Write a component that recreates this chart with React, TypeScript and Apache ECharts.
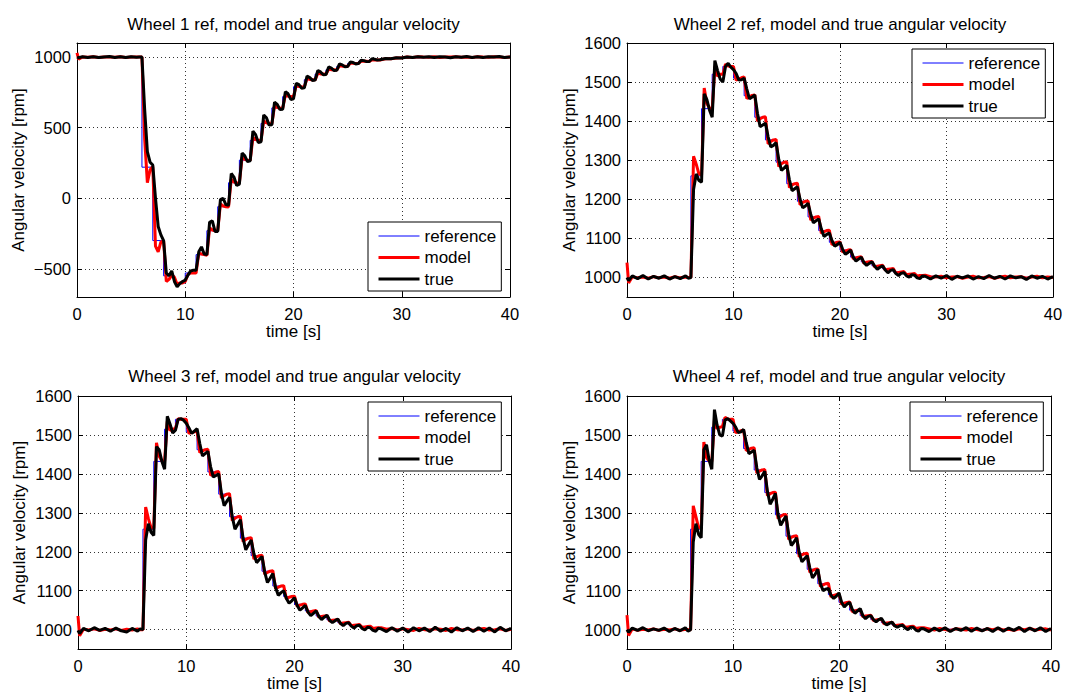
import React, { useEffect, useRef } from 'react';
import * as echarts from 'echarts';

// time samples (s) shared by the model / true traces
const T = [
  0, 0.15, 0.5, 1, 1.5, 2, 2.5, 3, 3.5, 4, 4.5, 5, 5.5, 5.75,
  6, 6.25, 6.5, 6.75, 7, 7.25, 7.5, 7.75, 8, 8.25, 8.5, 8.75, 9, 9.25, 9.5, 9.75,
  10, 10.25, 10.5, 10.75, 11, 11.25, 11.5, 11.75, 12, 12.25, 12.5, 12.75, 13, 13.25, 13.5, 13.75,
  14, 14.25, 14.5, 14.75, 15, 15.25, 15.5, 15.75, 16, 16.25, 16.5, 16.75, 17, 17.25, 17.5, 17.75,
  18, 18.25, 18.5, 18.75, 19, 19.25, 19.5, 19.75, 20, 20.25, 20.5, 20.75, 21, 21.25, 21.5, 21.75,
  22, 22.25, 22.5, 22.75, 23, 23.25, 23.5, 23.75, 24, 24.25, 24.5, 24.75, 25, 25.25, 25.5, 25.75,
  26, 26.25, 26.5, 26.75, 27, 27.25, 27.5, 27.75, 28,
  28.5, 29, 29.5, 30, 30.5, 31, 31.5, 32, 32.5, 33, 33.5, 34, 34.5, 35, 35.5, 36, 36.5, 37, 37.5, 38, 38.5, 39, 39.5, 40,
];

// reference step instants (s)
const REF_T = [0, 6, 7, 8, 9, 10, 11, 12, 13, 14, 15, 16, 17, 18, 19, 20, 21, 22, 23, 24, 25, 26, 27, 28, 29, 30, 40];

// ---- Wheel 1 ----
const W1_REF = [1000, 220, -300, -550, -600, -530, -400, -230, -60, 110, 270, 410, 530, 640, 720, 790, 840, 880, 910, 935, 955, 970, 980, 988, 995, 1000, 1000];
const W1_MODEL = [
  1030, 985, 1001, 999, 1002, 998, 1001, 1000, 999, 1002, 998, 1001, 1000, 1000,
  1000, 420, 110, 200, 225, -340, -380, -310, -300, -590, -575, -545, -560, -610, -600, -600,
  -590, -540, -530, -530, -530, -390, -395, -400, -405, -210, -225, -230, -232, -40, -55, -60,
  -62, 135, 115, 110, 108, 290, 275, 270, 268, 430, 415, 410, 408, 548, 535, 530,
  528, 655, 643, 640, 638, 732, 724, 720, 719, 800, 792, 790, 789, 848, 842, 840,
  839, 886, 881, 880, 879, 915, 911, 910, 909, 939, 936, 935, 934, 958, 956, 955,
  955, 972, 970, 970, 969, 982, 980, 980, 980,
  988, 989, 994, 995, 1000, 998, 1002, 1000, 999, 1002, 998, 1001, 1000, 1003, 999, 1001, 998, 1002, 1000, 999, 1002, 1000, 998, 1001,
];
const W1_TRUE = [
  1000, 996, 1002, 998, 1003, 997, 1001, 1004, 998, 1002, 997, 1003, 999, 1001,
  1000, 630, 330, 255, 235, 0, -200, -260, -300, -530, -550, -515, -590, -628, -605, -590,
  -580, -545, -515, -510, -510, -380, -345, -395, -400, -170, -160, -235, -235, -10, 0, -45,
  -50, 175, 150, 90, 100, 320, 300, 260, 265, 475, 450, 395, 400, 590, 570, 518,
  520, 680, 665, 628, 630, 755, 740, 700, 705, 815, 805, 780, 782, 865, 855, 835,
  838, 905, 895, 875, 877, 930, 922, 905, 907, 952, 945, 932, 933, 966, 962, 952,
  954, 978, 975, 968, 969, 988, 985, 979, 981,
  990, 988, 996, 994, 1001, 998, 1003, 999, 1002, 997, 1003, 1000, 996, 1003, 999, 1004, 998, 1002, 997, 1003, 1000, 1004, 998, 1001,
];

// ---- Wheel 2 ----
const W2_REF = [1000, 1260, 1432, 1520, 1540, 1510, 1465, 1410, 1352, 1295, 1240, 1195, 1155, 1120, 1090, 1070, 1052, 1040, 1030, 1022, 1014, 1009, 1005, 1003, 1001, 1000, 1000];
const W2_MODEL = [
  1038, 986, 1002, 999, 1001, 998, 1002, 999, 1001, 998, 1002, 999, 1001, 1000,
  1000, 1310, 1290, 1265, 1262, 1485, 1445, 1433, 1431, 1540, 1515, 1520, 1520, 1546, 1541, 1540,
  1540, 1505, 1508, 1511, 1513, 1458, 1462, 1466, 1467, 1400, 1406, 1410, 1411, 1342, 1348, 1352,
  1353, 1284, 1291, 1295, 1296, 1230, 1237, 1240, 1241, 1186, 1192, 1195, 1196, 1147, 1152, 1155,
  1156, 1113, 1117, 1120, 1121, 1084, 1088, 1090, 1091, 1065, 1068, 1070, 1071, 1048, 1050, 1052,
  1053, 1036, 1039, 1040, 1041, 1027, 1029, 1030, 1031, 1019, 1021, 1022, 1023, 1011, 1013, 1014,
  1015, 1007, 1008, 1009, 1010, 1003, 1005, 1005, 1006,
  1002, 1001, 1003, 999, 1001, 1002, 998, 1001, 1003, 999, 1000, 1002, 998, 1001, 1003, 999, 1001, 1002, 998, 1001, 1003, 999, 1001, 1000,
];
const W2_TRUE = [
  1000, 992, 1004, 997, 1005, 996, 1003, 998, 1004, 996, 1002, 997, 1004, 998,
  1000, 1225, 1265, 1248, 1244, 1470, 1455, 1428, 1410, 1555, 1530, 1508, 1500, 1540, 1548, 1538,
  1532, 1522, 1505, 1506, 1510, 1482, 1457, 1462, 1467, 1420, 1386, 1390, 1395, 1360, 1334, 1338,
  1345, 1302, 1274, 1280, 1287, 1250, 1222, 1227, 1232, 1200, 1178, 1183, 1190, 1162, 1140, 1145,
  1150, 1124, 1105, 1110, 1114, 1094, 1080, 1084, 1090, 1072, 1059, 1064, 1070, 1052, 1042, 1047,
  1052, 1038, 1031, 1036, 1040, 1029, 1021, 1026, 1030, 1019, 1012, 1018, 1020, 1010, 1005, 1011,
  1012, 1004, 1001, 1007, 1006, 999, 997, 1004, 1003,
  996, 1004, 998, 1005, 995, 1003, 999, 1004, 996, 1002, 997, 1005, 998, 1003, 996, 1004, 999, 1002, 995, 1004, 998, 1003, 996, 1002,
];

// ---- Wheel 3 ----
const W3_REF = [1000, 1258, 1432, 1515, 1540, 1508, 1462, 1405, 1348, 1290, 1235, 1190, 1150, 1112, 1085, 1065, 1048, 1035, 1025, 1018, 1012, 1008, 1005, 1003, 1001, 1000, 1000];
const W3_MODEL = [
  1035, 984, 1001, 999, 1002, 998, 1001, 999, 1002, 998, 1001, 999, 1002, 1000,
  1000, 1315, 1285, 1262, 1260, 1480, 1445, 1433, 1432, 1535, 1512, 1515, 1516, 1542, 1540, 1540,
  1540, 1504, 1506, 1508, 1510, 1455, 1459, 1462, 1463, 1396, 1401, 1405, 1406, 1338, 1344, 1348,
  1349, 1280, 1286, 1290, 1291, 1226, 1232, 1235, 1236, 1181, 1187, 1190, 1191, 1142, 1147, 1150,
  1151, 1105, 1109, 1112, 1113, 1079, 1083, 1085, 1086, 1060, 1063, 1065, 1066, 1044, 1046, 1048,
  1049, 1032, 1034, 1035, 1036, 1022, 1024, 1025, 1026, 1015, 1017, 1018, 1019, 1010, 1011, 1012,
  1013, 1006, 1007, 1008, 1009, 1003, 1004, 1005, 1005,
  1001, 1003, 999, 1002, 1000, 998, 1003, 1000, 999, 1002, 1001, 998, 1003, 1000, 999, 1002, 998, 1001, 1003, 999, 1000, 1002, 998, 1001,
];
const W3_TRUE = [
  998, 990, 1003, 997, 1005, 998, 1003, 996, 1004, 997, 994, 1003, 996, 1002,
  1000, 1230, 1272, 1250, 1242, 1470, 1462, 1432, 1412, 1548, 1528, 1505, 1512, 1540, 1542, 1538,
  1530, 1518, 1504, 1510, 1516, 1478, 1446, 1452, 1458, 1418, 1392, 1396, 1400, 1350, 1318, 1330,
  1340, 1290, 1258, 1270, 1282, 1235, 1205, 1218, 1230, 1195, 1172, 1180, 1188, 1148, 1121, 1132,
  1144, 1108, 1088, 1095, 1100, 1080, 1068, 1074, 1082, 1062, 1050, 1056, 1062, 1045, 1036, 1042,
  1048, 1034, 1026, 1032, 1037, 1024, 1018, 1023, 1027, 1016, 1010, 1016, 1018, 1009, 1004, 1010,
  1011, 1003, 999, 1006, 1005, 998, 996, 1004, 1002,
  995, 1005, 996, 1004, 994, 1005, 997, 1004, 995, 1006, 996, 1003, 994, 1005, 997, 1004, 995, 1005, 996, 1004, 994, 1006, 997, 1003,
];

// ---- Wheel 4 ----
const W4_REF = [1000, 1258, 1432, 1520, 1540, 1510, 1465, 1410, 1352, 1295, 1240, 1195, 1155, 1118, 1090, 1070, 1050, 1036, 1026, 1018, 1012, 1008, 1005, 1003, 1001, 1000, 1000];
const W4_MODEL = [
  1037, 985, 1002, 998, 1001, 999, 1002, 998, 1001, 999, 1002, 998, 1001, 1000,
  1000, 1318, 1290, 1262, 1260, 1482, 1442, 1433, 1432, 1540, 1516, 1520, 1521, 1545, 1541, 1540,
  1540, 1506, 1508, 1511, 1512, 1460, 1463, 1466, 1467, 1402, 1407, 1410, 1411, 1344, 1349, 1352,
  1353, 1285, 1291, 1295, 1296, 1232, 1237, 1240, 1241, 1187, 1192, 1195, 1196, 1147, 1152, 1155,
  1156, 1111, 1115, 1118, 1119, 1084, 1088, 1090, 1091, 1065, 1068, 1070, 1071, 1046, 1048, 1050,
  1051, 1033, 1035, 1036, 1037, 1023, 1025, 1026, 1027, 1015, 1017, 1018, 1019, 1010, 1011, 1012,
  1013, 1006, 1007, 1008, 1009, 1003, 1004, 1005, 1005,
  1002, 999, 1003, 1000, 998, 1002, 1001, 999, 1003, 1000, 998, 1002, 1000, 1003, 999, 1001, 998, 1002, 1000, 1003, 999, 1001, 1002, 999,
];
const W4_TRUE = [
  1000, 993, 1004, 998, 1005, 997, 1002, 998, 1004, 995, 1003, 997, 1005, 996,
  1000, 1225, 1272, 1245, 1236, 1462, 1475, 1435, 1412, 1565, 1525, 1500, 1497, 1538, 1542, 1536,
  1530, 1520, 1506, 1508, 1514, 1480, 1452, 1456, 1461, 1415, 1386, 1395, 1407, 1355, 1322, 1335,
  1350, 1295, 1268, 1280, 1292, 1245, 1216, 1225, 1236, 1198, 1174, 1182, 1190, 1158, 1133, 1142,
  1155, 1118, 1100, 1104, 1106, 1088, 1080, 1086, 1094, 1070, 1058, 1065, 1070, 1052, 1042, 1048,
  1054, 1036, 1028, 1034, 1036, 1026, 1020, 1026, 1029, 1018, 1012, 1016, 1019, 1010, 1006, 1010,
  1011, 1004, 1000, 1006, 1006, 999, 996, 1003, 1002,
  995, 1004, 997, 1005, 995, 1003, 998, 1005, 996, 1004, 997, 1003, 995, 1005, 996, 1004, 998, 1006, 995, 1004, 997, 1005, 995, 1003,
];

const X_TICKS = [0, 10, 20, 30, 40];
const Y_TICKS_W1 = [-500, 0, 500, 1000];
const Y_TICKS_W234 = [1000, 1100, 1200, 1300, 1400, 1500, 1600];
const SERIES_NAMES = ['reference', 'model', 'true'];
const TITLES = [
  'Wheel 1 ref, model and true angular velocity',
  'Wheel 2 ref, model and true angular velocity',
  'Wheel 3 ref, model and true angular velocity',
  'Wheel 4 ref, model and true angular velocity',
];

const FONT = '"Liberation Sans", Arial, Helvetica, sans-serif';

const PANELS = [
  { ref: W1_REF, model: W1_MODEL, tru: W1_TRUE, yMin: -700, yMax: 1100, yTicks: Y_TICKS_W1,
    grid: { left: 77, top: 43, width: 433, height: 254 }, legend: { left: 368, top: 222 }, titleY: 24 },
  { ref: W2_REF, model: W2_MODEL, tru: W2_TRUE, yMin: 950, yMax: 1600, yTicks: Y_TICKS_W234,
    grid: { left: 627, top: 43, width: 426, height: 254 }, legend: { left: 912, top: 49 }, titleY: 24 },
  { ref: W3_REF, model: W3_MODEL, tru: W3_TRUE, yMin: 950, yMax: 1600, yTicks: Y_TICKS_W234,
    grid: { left: 78, top: 396, width: 433, height: 254 }, legend: { left: 368, top: 402 }, titleY: 376 },
  { ref: W4_REF, model: W4_MODEL, tru: W4_TRUE, yMin: 950, yMax: 1600, yTicks: Y_TICKS_W234,
    grid: { left: 627, top: 396, width: 424, height: 254 }, legend: { left: 910, top: 402 }, titleY: 376 },
];

const fmtY = (v: number) => (v < 0 ? '\u2212' + Math.abs(v) : String(v));

function buildOption() {
  const grid: any[] = [];
  const xAxis: any[] = [];
  const yAxis: any[] = [];
  const series: any[] = [];
  const legend: any[] = [];
  const graphic: any[] = [];

  const axisLine = { show: true, onZero: false, lineStyle: { color: '#000', width: 1 } };
  const axisTick = { show: true, inside: true, length: 5, lineStyle: { color: '#000', width: 1 } };
  const splitLine = { show: true, lineStyle: { color: '#000', width: 0.8, type: [1, 3] } };

  PANELS.forEach((p, i) => {
    grid.push({ ...p.grid, containLabel: false, show: false });
    xAxis.push({
      type: 'value', gridIndex: i, position: 'bottom', min: 0, max: 40, interval: 10,
      axisLine, axisTick: { ...axisTick, customValues: X_TICKS },
      axisLabel: { show: true, customValues: X_TICKS, color: '#000', fontSize: 16.5, fontFamily: FONT, margin: 8 },
      splitLine,
      name: 'time [s]', nameLocation: 'middle', nameGap: 23,
      nameTextStyle: { color: '#000', fontSize: 17, fontFamily: FONT },
    });
    xAxis.push({
      type: 'value', gridIndex: i, position: 'top', min: 0, max: 40, interval: 10,
      axisLine, axisTick: { ...axisTick, customValues: X_TICKS },
      axisLabel: { show: false }, splitLine: { show: false },
    });
    yAxis.push({
      type: 'value', gridIndex: i, position: 'left', min: p.yMin, max: p.yMax,
      axisLine, axisTick: { ...axisTick, customValues: p.yTicks },
      axisLabel: { show: true, customValues: p.yTicks, formatter: fmtY, color: '#000', fontSize: 16.5, fontFamily: FONT, margin: 6 },
      splitLine,
      name: 'Angular velocity [rpm]', nameLocation: 'middle', nameGap: i % 2 === 0 ? 50 : 49,
      nameTextStyle: { color: '#000', fontSize: 17, fontFamily: FONT },
    });
    yAxis.push({
      type: 'value', gridIndex: i, position: 'right', min: p.yMin, max: p.yMax,
      axisLine, axisTick: { ...axisTick, customValues: p.yTicks },
      axisLabel: { show: false }, splitLine: { show: false },
    });

    const xi = i * 2;
    series.push({
      type: 'line', name: SERIES_NAMES[0], xAxisIndex: xi, yAxisIndex: xi, step: 'end',
      symbol: 'none', showSymbol: false, silent: true,
      lineStyle: { color: '#0000ff', width: 1 }, itemStyle: { color: '#0000ff' },
      data: REF_T.map((t, j) => [t, p.ref[j]]),
    });
    series.push({
      type: 'line', name: SERIES_NAMES[1], xAxisIndex: xi, yAxisIndex: xi,
      symbol: 'none', showSymbol: false, silent: true,
      lineStyle: { color: '#ff0000', width: 3 }, itemStyle: { color: '#ff0000' },
      data: T.map((t, j) => [t, p.model[j]]),
    });
    series.push({
      type: 'line', name: SERIES_NAMES[2], xAxisIndex: xi, yAxisIndex: xi,
      symbol: 'none', showSymbol: false, silent: true,
      lineStyle: { color: '#000000', width: 3 }, itemStyle: { color: '#000000' },
      data: T.map((t, j) => [t, p.tru[j]]),
    });

    legend.push({
      orient: 'vertical', left: p.legend.left, top: p.legend.top,
      itemWidth: 41, itemHeight: 20, itemGap: 1.5, padding: [4, 5, 2, 9],
      borderColor: '#000', borderWidth: 1, backgroundColor: '#fff', borderRadius: 0,
      selectedMode: false,
      lineStyle: { width: 'inherit' },
      itemStyle: { opacity: 0, borderWidth: 0 },
      textStyle: { color: '#000', fontSize: 17, fontFamily: FONT, lineHeight: 20 },
      data: SERIES_NAMES.slice(),
    });

    graphic.push({
      type: 'text', x: p.grid.left + p.grid.width / 2, y: p.titleY,
      style: { text: TITLES[i], fill: '#000', fontSize: 17, fontFamily: FONT, textAlign: 'center', textVerticalAlign: 'middle' },
    });
  });

  return { animation: false, backgroundColor: '#fff', grid, xAxis, yAxis, series, legend, graphic };
}

export default function App() {
  const ref = useRef<HTMLDivElement>(null);
  useEffect(() => {
    if (!ref.current) return;
    const chart = echarts.init(ref.current, null, { renderer: 'svg', width: 1084, height: 693 });
    chart.setOption(buildOption() as any);
    return () => chart.dispose();
  }, []);
  return (
    <div
      ref={ref}
      style={{ position: 'absolute', left: 0, top: 0, width: 1084, height: 693, background: '#fff' }}
    />
  );
}
